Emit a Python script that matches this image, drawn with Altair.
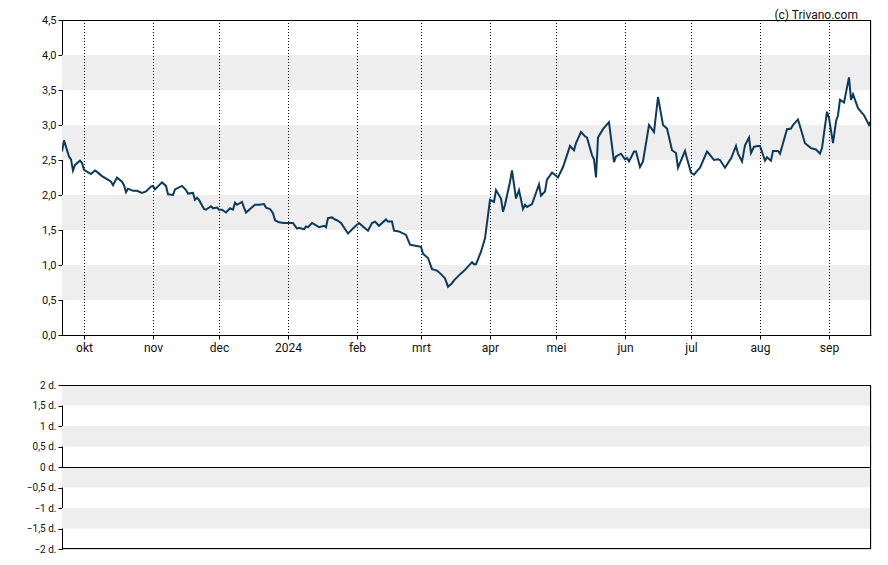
import altair as alt
import pandas as pd

dates = [
    "2023-09-21", "2023-09-22", "2023-09-24", "2023-09-25", "2023-09-26", "2023-09-27", "2023-09-29", "2023-09-30",
    "2023-10-01", "2023-10-04", "2023-10-06", "2023-10-07", "2023-10-09", "2023-10-12", "2023-10-13", "2023-10-14",
    "2023-10-16", "2023-10-18", "2023-10-19", "2023-10-20", "2023-10-21", "2023-10-23", "2023-10-25", "2023-10-27",
    "2023-10-29", "2023-10-31", "2023-11-01", "2023-11-02", "2023-11-05", "2023-11-07", "2023-11-08", "2023-11-10",
    "2023-11-11", "2023-11-14", "2023-11-16", "2023-11-17", "2023-11-19", "2023-11-20", "2023-11-21", "2023-11-22",
    "2023-11-24", "2023-11-25", "2023-11-27", "2023-11-28", "2023-11-30", "2023-12-01", "2023-12-02", "2023-12-04",
    "2023-12-06", "2023-12-07", "2023-12-08", "2023-12-09", "2023-12-11", "2023-12-12", "2023-12-13", "2023-12-15",
    "2023-12-17", "2023-12-19", "2023-12-21", "2023-12-22", "2023-12-24", "2023-12-25", "2023-12-26", "2023-12-28",
    "2023-12-30", "2024-01-01", "2024-01-03", "2024-01-04", "2024-01-05", "2024-01-06", "2024-01-08", "2024-01-09",
    "2024-01-10", "2024-01-12", "2024-01-14", "2024-01-15", "2024-01-17", "2024-01-18", "2024-01-19", "2024-01-21",
    "2024-01-22", "2024-01-23", "2024-01-25", "2024-01-28", "2024-01-31", "2024-02-02", "2024-02-04", "2024-02-06",
    "2024-02-08", "2024-02-09", "2024-02-11", "2024-02-14", "2024-02-15", "2024-02-17", "2024-02-18", "2024-02-20",
    "2024-02-23", "2024-02-25", "2024-02-27", "2024-03-01", "2024-03-02", "2024-03-04", "2024-03-06", "2024-03-08",
    "2024-03-10", "2024-03-12", "2024-03-13", "2024-03-15", "2024-03-16", "2024-03-19", "2024-03-21", "2024-03-24",
    "2024-03-25", "2024-03-26", "2024-03-28", "2024-03-30", "2024-04-01", "2024-04-03", "2024-04-04", "2024-04-06",
    "2024-04-07", "2024-04-08", "2024-04-10", "2024-04-11", "2024-04-13", "2024-04-14", "2024-04-16", "2024-04-17",
    "2024-04-18", "2024-04-20", "2024-04-21", "2024-04-23", "2024-04-24", "2024-04-26", "2024-04-27", "2024-04-29",
    "2024-04-30", "2024-05-02", "2024-05-04", "2024-05-06", "2024-05-07", "2024-05-09", "2024-05-10", "2024-05-12",
    "2024-05-14", "2024-05-15", "2024-05-17", "2024-05-18", "2024-05-19", "2024-05-20", "2024-05-22", "2024-05-24",
    "2024-05-25", "2024-05-27", "2024-05-28", "2024-05-30", "2024-06-01", "2024-06-02", "2024-06-03", "2024-06-05",
    "2024-06-06", "2024-06-08", "2024-06-09", "2024-06-12", "2024-06-14", "2024-06-16", "2024-06-18", "2024-06-20",
    "2024-06-21", "2024-06-22", "2024-06-24", "2024-06-25", "2024-06-28", "2024-06-29", "2024-07-01", "2024-07-02",
    "2024-07-04", "2024-07-05", "2024-07-08", "2024-07-09", "2024-07-11", "2024-07-13", "2024-07-14", "2024-07-16",
    "2024-07-18", "2024-07-19", "2024-07-21", "2024-07-22", "2024-07-24", "2024-07-25", "2024-07-27", "2024-07-28",
    "2024-07-29", "2024-07-31", "2024-08-01", "2024-08-03", "2024-08-04", "2024-08-06", "2024-08-07", "2024-08-09",
    "2024-08-10", "2024-08-13", "2024-08-15", "2024-08-16", "2024-08-18", "2024-08-21", "2024-08-24", "2024-08-26",
    "2024-08-28", "2024-08-29", "2024-08-31", "2024-09-01", "2024-09-03", "2024-09-04", "2024-09-05", "2024-09-06",
    "2024-09-08", "2024-09-10", "2024-09-11", "2024-09-12", "2024-09-14", "2024-09-17", "2024-09-19", "2024-09-20",
]

prices = [
    2.62, 2.78, 2.55, 2.51, 2.35, 2.43, 2.49, 2.46,
    2.36, 2.30, 2.35, 2.33, 2.27, 2.21, 2.19, 2.14,
    2.25, 2.19, 2.14, 2.04, 2.09, 2.06, 2.06, 2.03,
    2.05, 2.12, 2.13, 2.08, 2.18, 2.13, 2.01, 2.00,
    2.08, 2.13, 2.07, 2.02, 2.03, 1.93, 1.96, 1.93,
    1.80, 1.79, 1.84, 1.81, 1.82, 1.79, 1.79, 1.75,
    1.81, 1.79, 1.89, 1.86, 1.90, 1.82, 1.75, 1.80,
    1.86, 1.86, 1.87, 1.82, 1.80, 1.74, 1.64, 1.61,
    1.60, 1.60, 1.60, 1.56, 1.52, 1.53, 1.51, 1.55,
    1.54, 1.60, 1.56, 1.54, 1.56, 1.54, 1.67, 1.68,
    1.65, 1.64, 1.60, 1.45, 1.55, 1.60, 1.55, 1.49,
    1.60, 1.62, 1.56, 1.65, 1.62, 1.62, 1.49, 1.48,
    1.43, 1.29, 1.28, 1.26, 1.16, 1.10, 0.94, 0.92,
    0.87, 0.81, 0.69, 0.74, 0.78, 0.88, 0.93, 1.04,
    1.01, 1.01, 1.19, 1.38, 1.93, 1.90, 2.07, 1.95,
    1.76, 1.86, 2.19, 2.35, 1.95, 2.07, 1.80, 1.86,
    1.83, 1.87, 1.95, 2.15, 1.99, 2.05, 2.22, 2.32,
    2.30, 2.25, 2.40, 2.57, 2.70, 2.64, 2.74, 2.90,
    2.84, 2.82, 2.57, 2.51, 2.25, 2.82, 2.94, 3.01,
    3.04, 2.47, 2.55, 2.59, 2.51, 2.53, 2.48, 2.62,
    2.62, 2.40, 2.48, 3.00, 2.90, 3.40, 3.00, 2.95,
    2.83, 2.64, 2.60, 2.39, 2.63, 2.52, 2.32, 2.29,
    2.36, 2.39, 2.62, 2.59, 2.50, 2.51, 2.50, 2.39,
    2.48, 2.52, 2.70, 2.59, 2.48, 2.71, 2.82, 2.60,
    2.69, 2.70, 2.70, 2.49, 2.54, 2.49, 2.63, 2.63,
    2.59, 2.94, 2.95, 3.00, 3.08, 2.74, 2.67, 2.65,
    2.59, 2.67, 3.19, 3.10, 2.74, 3.05, 3.14, 3.36,
    3.32, 3.68, 3.36, 3.44, 3.24, 3.14, 3.00, 3.06,
]

month_names = ["jan", "feb", "mrt", "apr", "mei", "jun", "jul", "aug", "sep", "okt", "nov", "dec"]
tick_dates = ["2023-10-01", "2023-11-01", "2023-12-01", "2024-01-01", "2024-02-01", "2024-03-01",
              "2024-04-01", "2024-05-01", "2024-06-01", "2024-07-01", "2024-08-01", "2024-09-01"]
x_domain = ["2023-09-21", "2024-09-20"]

price_ticks = [0, 0.5, 1.0, 1.5, 2.0, 2.5, 3.0, 3.5, 4.0, 4.5]
band_lo = [0.5, 1.5, 2.5, 3.5]
band_hi = [1.0, 2.0, 3.0, 4.0]

low_ticks = [-2, -1.5, -1, -0.5, 0, 0.5, 1, 1.5, 2]
low_band_lo = [-1.5, -0.5, 0.5, 1.5]
low_band_hi = [-1.0, 0.0, 1.0, 2.0]

copyright_text = "(c) Trivano.com"

# ---------------------------------------------------------------------------
W = 809
H_TOP = 315
H_BOT = 164
LINE_COLOR = "#0d3a5a"
BAND_COLOR = "#eeeeee"
FONT = "Roboto"


def dt(s):
    y, m, d = (int(p) for p in s.split("-"))
    return alt.DateTime(year=y, month=m, date=d)


price_df = pd.DataFrame({"date": pd.to_datetime(dates), "price": prices})
band_df = pd.DataFrame({"lo": band_lo, "hi": band_hi})
low_band_df = pd.DataFrame({"lo": low_band_lo, "hi": low_band_hi})
tick_df = pd.DataFrame({"date": pd.to_datetime(tick_dates)})
zero_df = pd.DataFrame({"v": [0]})
text_df = pd.DataFrame({"t": [copyright_text]})
one_df = pd.DataFrame({"k": [1]})

names_js = "[" + ",".join("'%s'" % n for n in month_names) + "]"
x_label_expr = "month(datum.value) == 0 ? timeFormat(datum.value, '%Y') : " + names_js + "[month(datum.value)]"

x_scale = alt.Scale(domain=[dt(x_domain[0]), dt(x_domain[1])], nice=False, round=True)

x_axis = alt.Axis(
    values=[dt(s) for s in tick_dates],
    labelExpr=x_label_expr,
    grid=False,
    tickSize=4,
    tickColor="black",
    domainColor="black",
    labelColor="#111111",
    labelFont=FONT,
    labelFontSize=12,
    labelPadding=3,
    title=None,
)

y_top_scale = alt.Scale(domain=[0, 4.5], nice=False, zero=False)
y_top_axis = alt.Axis(
    values=price_ticks,
    labelExpr="replace(format(datum.value, '.1f'), '.', ',')",
    grid=False,
    tickSize=4,
    tickColor="black",
    domainColor="black",
    labelColor="#111111",
    labelFont=FONT,
    labelFontSize=11,
    labelPadding=2,
    minExtent=53,
    title=None,
)


def borders(height, with_bottom):
    layers = [
        alt.Chart(one_df).mark_rule(color="black", strokeWidth=1).encode(y=alt.value(0.5)),
        alt.Chart(one_df).mark_rule(color="black", strokeWidth=1).encode(
            x=alt.value(W - 0.5), y=alt.value(0), y2=alt.value(height)),
    ]
    if with_bottom:
        layers.append(
            alt.Chart(one_df).mark_rule(color="black", strokeWidth=1).encode(y=alt.value(height - 0.5))
        )
    return layers


bands = alt.Chart(band_df).mark_rect(color=BAND_COLOR).encode(
    y=alt.Y("lo:Q", scale=y_top_scale, axis=y_top_axis),
    y2="hi:Q",
)

vgrid = alt.Chart(tick_df).mark_rule(color="black", strokeDash=[1, 2], strokeWidth=1, xOffset=0.5).encode(
    x=alt.X("date:T", scale=x_scale, axis=x_axis),
)

line = alt.Chart(price_df).mark_line(color=LINE_COLOR, strokeWidth=2, clip=True).encode(
    x=alt.X("date:T", scale=x_scale, axis=x_axis),
    y=alt.Y("price:Q", scale=y_top_scale, axis=y_top_axis),
)

credit = alt.Chart(text_df).mark_text(
    align="right", baseline="top", font=FONT, fontSize=12, color="#111111"
).encode(
    x=alt.value(W - 13),
    y=alt.value(-10),
    text="t:N",
)

top = alt.layer(bands, vgrid, line, *borders(H_TOP, False), credit).properties(width=W, height=H_TOP)

y_bot_scale = alt.Scale(domain=[-2, 2], nice=False, zero=False)
y_bot_axis = alt.Axis(
    values=low_ticks,
    labelExpr="replace(format(datum.value, '~g'), '.', ',') + ' d.'",
    grid=False,
    tickSize=4,
    tickColor="black",
    domainColor="black",
    labelColor="#111111",
    labelFont=FONT,
    labelFontSize=10,
    labelPadding=2,
    minExtent=53,
    title=None,
)

low_bands = alt.Chart(low_band_df).mark_rect(color=BAND_COLOR).encode(
    y=alt.Y("lo:Q", scale=y_bot_scale, axis=y_bot_axis),
    y2="hi:Q",
)

zero_rule = alt.Chart(zero_df).mark_rule(color="black", strokeWidth=1, yOffset=0.5).encode(
    y=alt.Y("v:Q", scale=y_bot_scale, axis=y_bot_axis),
)

bottom = alt.layer(low_bands, zero_rule, *borders(H_BOT, True)).properties(width=W, height=H_BOT)

chart = alt.vconcat(top, bottom, spacing=25).properties(padding=0).configure_view(
    stroke="transparent", strokeWidth=0
).configure(background="white")

chart.save("out.html", embed_options={"renderer": "svg", "actions": False})
